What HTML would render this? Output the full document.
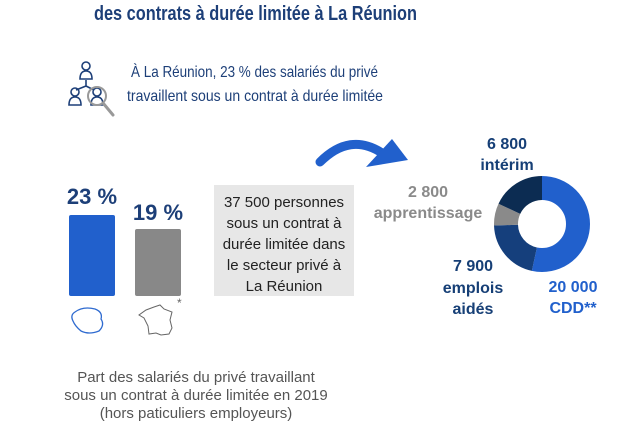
<!DOCTYPE html>
<html><head><meta charset="utf-8"><style>
body{margin:0;width:640px;height:427px;background:#fff;overflow:hidden;font-family:"Liberation Sans",sans-serif}
</style></head><body>
<svg width="640" height="427" viewBox="0 0 640 427" xmlns="http://www.w3.org/2000/svg" font-family="Liberation Sans, sans-serif">
<text x="94" y="20" textLength="323" lengthAdjust="spacingAndGlyphs" font-size="20" font-weight="bold" fill="#1d3f78">des contrats à durée limitée à La Réunion</text>
<!-- people icon -->
<g fill="none" stroke="#1d3f78" stroke-width="1.6">
<circle cx="86" cy="66" r="4"/><path d="M80 79 q0-8 6-8 q6 0 6 8z"/>
<path d="M86 80 v6 M86 86 l-10 4 M86 86 l8 4"/>
<circle cx="75" cy="92" r="4"/><path d="M69 105 q0-8 6-8 q6 0 6 8z"/>
<circle cx="97" cy="92" r="4"/><path d="M91 105 q0-8 6-8 q6 0 6 8z"/>
</g>
<circle cx="97" cy="96" r="9" fill="none" stroke="#999" stroke-width="2"/>
<path d="M103 103 l10 12" stroke="#999" stroke-width="3" stroke-linecap="round"/>
<text x="131" y="77" textLength="247" lengthAdjust="spacingAndGlyphs" font-size="16" fill="#1d3f78">À La Réunion, 23 % des salariés du privé</text>
<text x="127" y="101" textLength="256" lengthAdjust="spacingAndGlyphs" font-size="16" fill="#1d3f78">travaillent sous un contrat à durée limitée</text>
<!-- bars -->
<text x="92" y="204" text-anchor="middle" font-size="22" font-weight="bold" fill="#1d3f78">23 %</text>
<rect x="69" y="215" width="46" height="81" rx="2" fill="#2160cc"/>
<text x="158" y="220" text-anchor="middle" font-size="22" font-weight="bold" fill="#1d3f78">19 %</text>
<rect x="135" y="229" width="46" height="67" rx="2" fill="#888"/>
<path d="M75 312 q8-6 20-3 q8 3 6 10 q4 6-2 12 q-10 4-18 0 q-6-5-8-10 q-3-6 2-9z" fill="none" stroke="#2f6bd0" stroke-width="1.3"/>
<path d="M146 310 l8-3 l6-2 l4 4 l8 3 l-2 8 l2 8 l-3 6 l-8 1 l-5-2 l-7 1 l-1-8 l-4-8 l-5-3 z" fill="none" stroke="#666" stroke-width="1"/>
<text x="177" y="307" font-size="12" fill="#666">*</text>
<!-- box -->
<rect x="214" y="185" width="140" height="111" fill="#e7e7e7"/>
<g font-size="15" fill="#222" text-anchor="middle">
<text x="284" y="207">37 500 personnes</text>
<text x="284" y="228">sous un contrat à</text>
<text x="284" y="249">durée limitée dans</text>
<text x="284" y="270">le secteur privé à</text>
<text x="284" y="291">La Réunion</text>
</g>
<!-- caption -->
<g font-size="15" fill="#555" text-anchor="middle">
<text x="196" y="382">Part des salariés du privé travaillant</text>
<text x="196" y="400">sous un contrat à durée limitée en 2019</text>
<text x="196" y="418">(hors paticuliers employeurs)</text>
</g>
<!-- arrow -->
<path d="M320 162 Q350 132 382 153" fill="none" stroke="#2160cc" stroke-width="9" stroke-linecap="round"/>
<path d="M392 139 L408 160 L366 167 Z" fill="#2160cc"/>
<!-- donut -->
<g transform="rotate(-90 542 224)" fill="none" stroke-width="24">
<circle cx="542" cy="224" r="36" stroke="#2160cc" stroke-dasharray="120.6 300" stroke-dashoffset="0"/>
<circle cx="542" cy="224" r="36" stroke="#153f7c" stroke-dasharray="47.6 300" stroke-dashoffset="-120.6"/>
<circle cx="542" cy="224" r="36" stroke="#8a8a8a" stroke-dasharray="16.9 300" stroke-dashoffset="-168.2"/>
<circle cx="542" cy="224" r="36" stroke="#0c2c52" stroke-dasharray="41.1 300" stroke-dashoffset="-185.1"/>
</g>
<g font-size="16" font-weight="bold" text-anchor="middle">
<text x="507" y="149" fill="#163f76">6 800</text>
<text x="507" y="170" fill="#163f76">intérim</text>
<text x="428" y="197" fill="#8a8a8a">2 800</text>
<text x="428" y="218" fill="#8a8a8a">apprentissage</text>
<text x="473" y="271" fill="#163f76">7 900</text>
<text x="473" y="293" fill="#163f76">emplois</text>
<text x="473" y="314" fill="#163f76">aidés</text>
<text x="573" y="292" fill="#2160cc">20 000</text>
<text x="573" y="313" fill="#2160cc">CDD**</text>
</g>
</svg>
</body></html>
